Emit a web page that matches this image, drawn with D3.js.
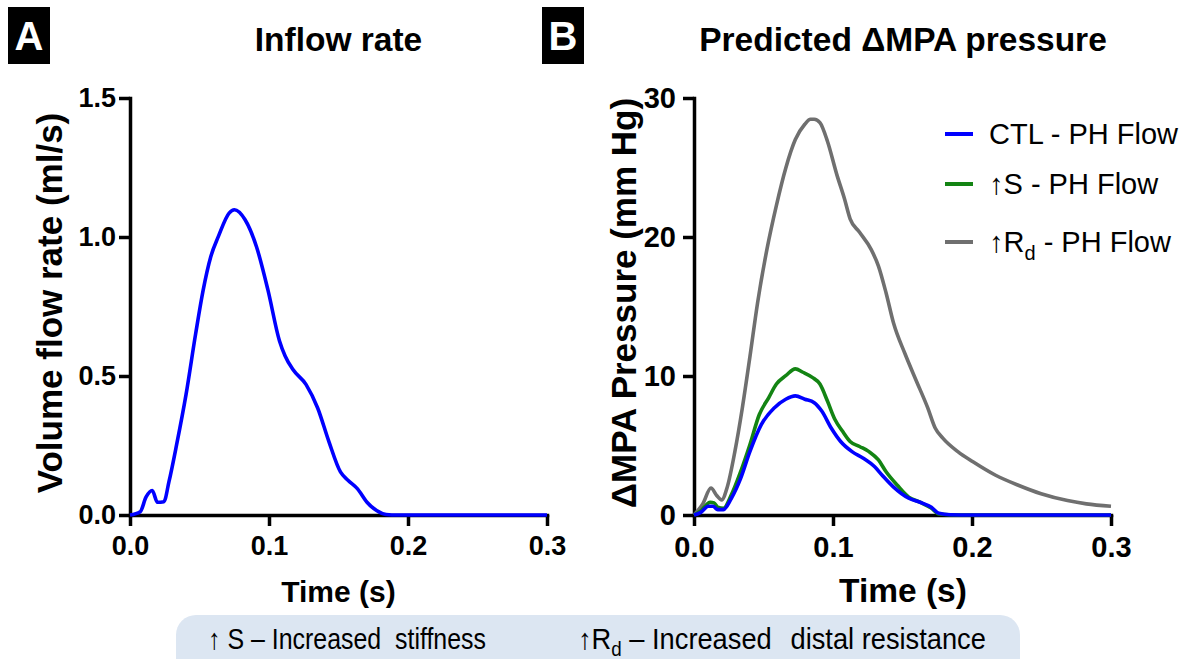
<!DOCTYPE html>
<html><head><meta charset="utf-8">
<script src="https://cdn.jsdelivr.net/npm/d3@7/dist/d3.min.js"></script>
<style>
body{margin:0;background:#fff;}
svg{display:block;}
text{font-family:"Liberation Sans",Arial,Helvetica,sans-serif;}
</style>
</head><body>
<svg id="chart" width="1187" height="659"></svg>
<script>
// ---------- DATA ----------
const xTicks = [0, 0.1, 0.2, 0.3];
const yTicksA = [0, 0.5, 1.0, 1.5];
const yTicksB = [0, 10, 20, 30];

// Panel A: inflow rate (ml/s) vs time (s)
const flowTime = [0, 0.0074, 0.0115, 0.016, 0.0197, 0.0244, 0.028, 0.0335, 0.0403, 0.0472, 0.0526, 0.0581, 0.0636, 0.0713, 0.0751, 0.0828, 0.091, 0.0993, 0.1075, 0.1116, 0.1171, 0.1267, 0.135, 0.1431, 0.1514, 0.1568, 0.1637, 0.1705, 0.1774, 0.1843, 0.1925, 0.3];
const flowRate = [0, 0.012, 0.064, 0.088, 0.046, 0.048, 0.119, 0.252, 0.433, 0.651, 0.808, 0.929, 1.002, 1.086, 1.098, 1.062, 0.965, 0.808, 0.627, 0.572, 0.524, 0.469, 0.385, 0.264, 0.155, 0.125, 0.094, 0.046, 0.016, 0.002, 0, 0];

// Panel B: predicted ΔMPA pressure (mm Hg) vs time (s)
const ctlTime = [0, 0.0049, 0.0103, 0.0136, 0.0171, 0.0212, 0.0267, 0.0335, 0.0402, 0.0484, 0.0579, 0.066, 0.0729, 0.0797, 0.0865, 0.0919, 0.0987, 0.1055, 0.1137, 0.1218, 0.13, 0.1354, 0.1436, 0.1545, 0.1626, 0.1708, 0.1762, 0.1844, 0.2, 0.3];
const ctlPressure = [0, 0.19, 0.63, 0.63, 0.39, 0.39, 1.17, 2.62, 4.56, 6.5, 7.72, 8.33, 8.57, 8.33, 8.08, 7.48, 6.26, 5.29, 4.56, 4.08, 3.47, 2.86, 2.01, 1.21, 0.92, 0.56, 0.12, 0.02, 0, 0];

const stiffTime = [0, 0.0049, 0.0117, 0.0144, 0.0171, 0.0212, 0.0267, 0.0335, 0.0402, 0.047, 0.0538, 0.0593, 0.066, 0.0729, 0.0783, 0.0851, 0.0906, 0.096, 0.1014, 0.1069, 0.1123, 0.1191, 0.1259, 0.1327, 0.1382, 0.1463, 0.1545, 0.1626, 0.1708, 0.1762, 0.19, 0.3];
const stiffPressure = [0, 0.3, 0.92, 0.87, 0.56, 0.49, 1.41, 3.1, 5.05, 7.23, 8.45, 9.42, 10.02, 10.51, 10.27, 9.9, 9.42, 8.2, 6.87, 6.02, 5.29, 4.93, 4.56, 3.96, 3.11, 2.14, 1.29, 0.92, 0.49, 0.07, 0, 0];

const resTime = [0, 0.0063, 0.0122, 0.0163, 0.0199, 0.0239, 0.0294, 0.0348, 0.0402, 0.0457, 0.0525, 0.0593, 0.066, 0.0729, 0.0797, 0.0838, 0.0865, 0.0906, 0.096, 0.1028, 0.1082, 0.1123, 0.1191, 0.1273, 0.1327, 0.1382, 0.1436, 0.1518, 0.1599, 0.1681, 0.1735, 0.179, 0.1898, 0.2007, 0.217, 0.2333, 0.2497, 0.2687, 0.2823, 0.3];
const resPressure = [0, 0.8, 1.94, 1.41, 1.09, 2.0, 4.56, 7.72, 11.36, 15.24, 19.13, 22.28, 24.95, 27.01, 28.11, 28.47, 28.47, 28.23, 26.89, 24.47, 22.77, 21.31, 20.34, 19.13, 17.91, 15.97, 13.79, 11.6, 9.66, 7.72, 6.26, 5.53, 4.56, 3.83, 2.86, 2.14, 1.53, 1.04, 0.8, 0.63];

const seriesNames = ["CTL", "↑S", "↑R"];
const seriesSubs = ["", "", "d"];
const seriesSuffix = " - PH Flow";
const seriesColors = ["#0000ff", "#138413", "#6f6f6f"];

// ---------- DRAW ----------
const svg = d3.select("#chart");
const AX_W = 3.5;

function makePanel(left, right, top, bottom, yMax, yTicks, yFmt, tickFont, yPad) {
  const x = d3.scaleLinear().domain([0, 0.3]).range([left, right]);
  const y = d3.scaleLinear().domain([0, yMax]).range([bottom, top]);
  const gx = svg.append("g").attr("transform", `translate(0,${bottom})`)
    .call(d3.axisBottom(x).tickValues(xTicks).tickFormat(d3.format(".1f"))
      .tickSize(11).tickSizeOuter(0).tickPadding(10));
  const gy = svg.append("g").attr("transform", `translate(${left},0)`)
    .call(d3.axisLeft(y).tickValues(yTicks).tickFormat(yFmt)
      .tickSize(11).tickSizeOuter(0).tickPadding(yPad));
  [gx, gy].forEach(g => {
    g.select(".domain").attr("stroke", "#000").attr("stroke-width", AX_W).attr("stroke-linecap", "square");
    g.selectAll(".tick line").attr("stroke", "#000").attr("stroke-width", AX_W);
    g.selectAll(".tick text").attr("fill", "#000").attr("font-size", tickFont)
      .attr("font-weight", "bold").style("font-family", '"Liberation Sans",Arial,sans-serif');
  });
  return {x, y};
}

function drawLine(p, ts, vs, color) {
  const pts = ts.map((t, i) => [t, vs[i]]);
  svg.append("path").datum(pts)
    .attr("fill", "none").attr("stroke", color).attr("stroke-width", 3.6)
    .attr("stroke-linejoin", "round")
    .attr("d", d3.line().x(d => p.x(d[0])).y(d => p.y(d[1])).curve(d3.curveMonotoneX));
}

// Panel A
const pA = makePanel(130, 547, 98, 515, 1.5, yTicksA, d3.format(".1f"), 27, 3);
drawLine(pA, flowTime, flowRate, seriesColors[0]);

// Panel B
const pB = makePanel(694, 1111, 98, 515, 30, yTicksB, d3.format("d"), 29, 7);
drawLine(pB, resTime, resPressure, seriesColors[2]);
drawLine(pB, stiffTime, stiffPressure, seriesColors[1]);
drawLine(pB, ctlTime, ctlPressure, seriesColors[0]);

// Titles
svg.append("text").attr("x", 338.5).attr("y", 51).attr("text-anchor", "middle")
  .attr("font-size", 33.5).attr("font-weight", "bold").text("Inflow rate");
svg.append("text").attr("x", 903).attr("y", 51).attr("text-anchor", "middle")
  .attr("font-size", 33.5).attr("font-weight", "bold").text("Predicted ΔMPA pressure");

// Panel letters
[["A", 8], ["B", 542]].forEach(([l, xx]) => {
  svg.append("rect").attr("x", xx).attr("y", 7).attr("width", 42).attr("height", 57).attr("fill", "#000");
  svg.append("text").attr("x", xx + 21).attr("y", 50).attr("text-anchor", "middle")
    .attr("font-size", 40).attr("font-weight", "bold").attr("fill", "#fff").text(l);
});

// Axis titles
svg.append("text").attr("transform", "translate(62,303) rotate(-90)").attr("text-anchor", "middle")
  .attr("font-size", 35).attr("font-weight", "bold").text("Volume flow rate (ml/s)");
svg.append("text").attr("transform", "translate(636,303) rotate(-90)").attr("text-anchor", "middle")
  .attr("font-size", 35).attr("font-weight", "bold").text("ΔMPA Pressure (mm Hg)");
svg.append("text").attr("x", 338.5).attr("y", 602).attr("text-anchor", "middle")
  .attr("font-size", 30).attr("font-weight", "bold").text("Time (s)");
svg.append("text").attr("x", 903).attr("y", 602).attr("text-anchor", "middle")
  .attr("font-size", 33.5).attr("font-weight", "bold").text("Time (s)");

// Legend
const legendY = [134, 184, 242];
seriesNames.forEach((n, i) => {
  svg.append("line").attr("x1", 945).attr("x2", 973).attr("y1", legendY[i]).attr("y2", legendY[i])
    .attr("stroke", seriesColors[i]).attr("stroke-width", 4);
  const t = svg.append("text").attr("x", 989).attr("y", legendY[i] + 10).attr("font-size", 29).attr("fill", "#000");
  t.append("tspan").text(n);
  if (seriesSubs[i]) t.append("tspan").attr("font-size", 20).attr("dy", 8).text(seriesSubs[i]);
  t.append("tspan").attr("dy", seriesSubs[i] ? -8 : 0).text(seriesSuffix);
});

// Bottom note box
svg.append("rect").attr("x", 176).attr("y", 615).attr("width", 844).attr("height", 70).attr("rx", 20)
  .attr("fill", "#dce6f2");
const n1 = svg.append("text").attr("transform", "translate(208,649) scale(0.86,1)").attr("font-size", 29)
  .attr("fill", "#000");
n1.append("tspan").text("↑ S – Increased");
n1.append("tspan").attr("dx", 8).text(" stiffness");
const n2 = svg.append("text").attr("transform", "translate(578,649) scale(0.94,1)").attr("font-size", 29)
  .attr("fill", "#000");
n2.append("tspan").text("↑R");
n2.append("tspan").attr("font-size", 20).attr("dy", 7).text("d");
n2.append("tspan").attr("dy", -7).text(" – Increased");
n2.append("tspan").attr("dx", 12).text(" distal resistance");
</script>
</body></html>
